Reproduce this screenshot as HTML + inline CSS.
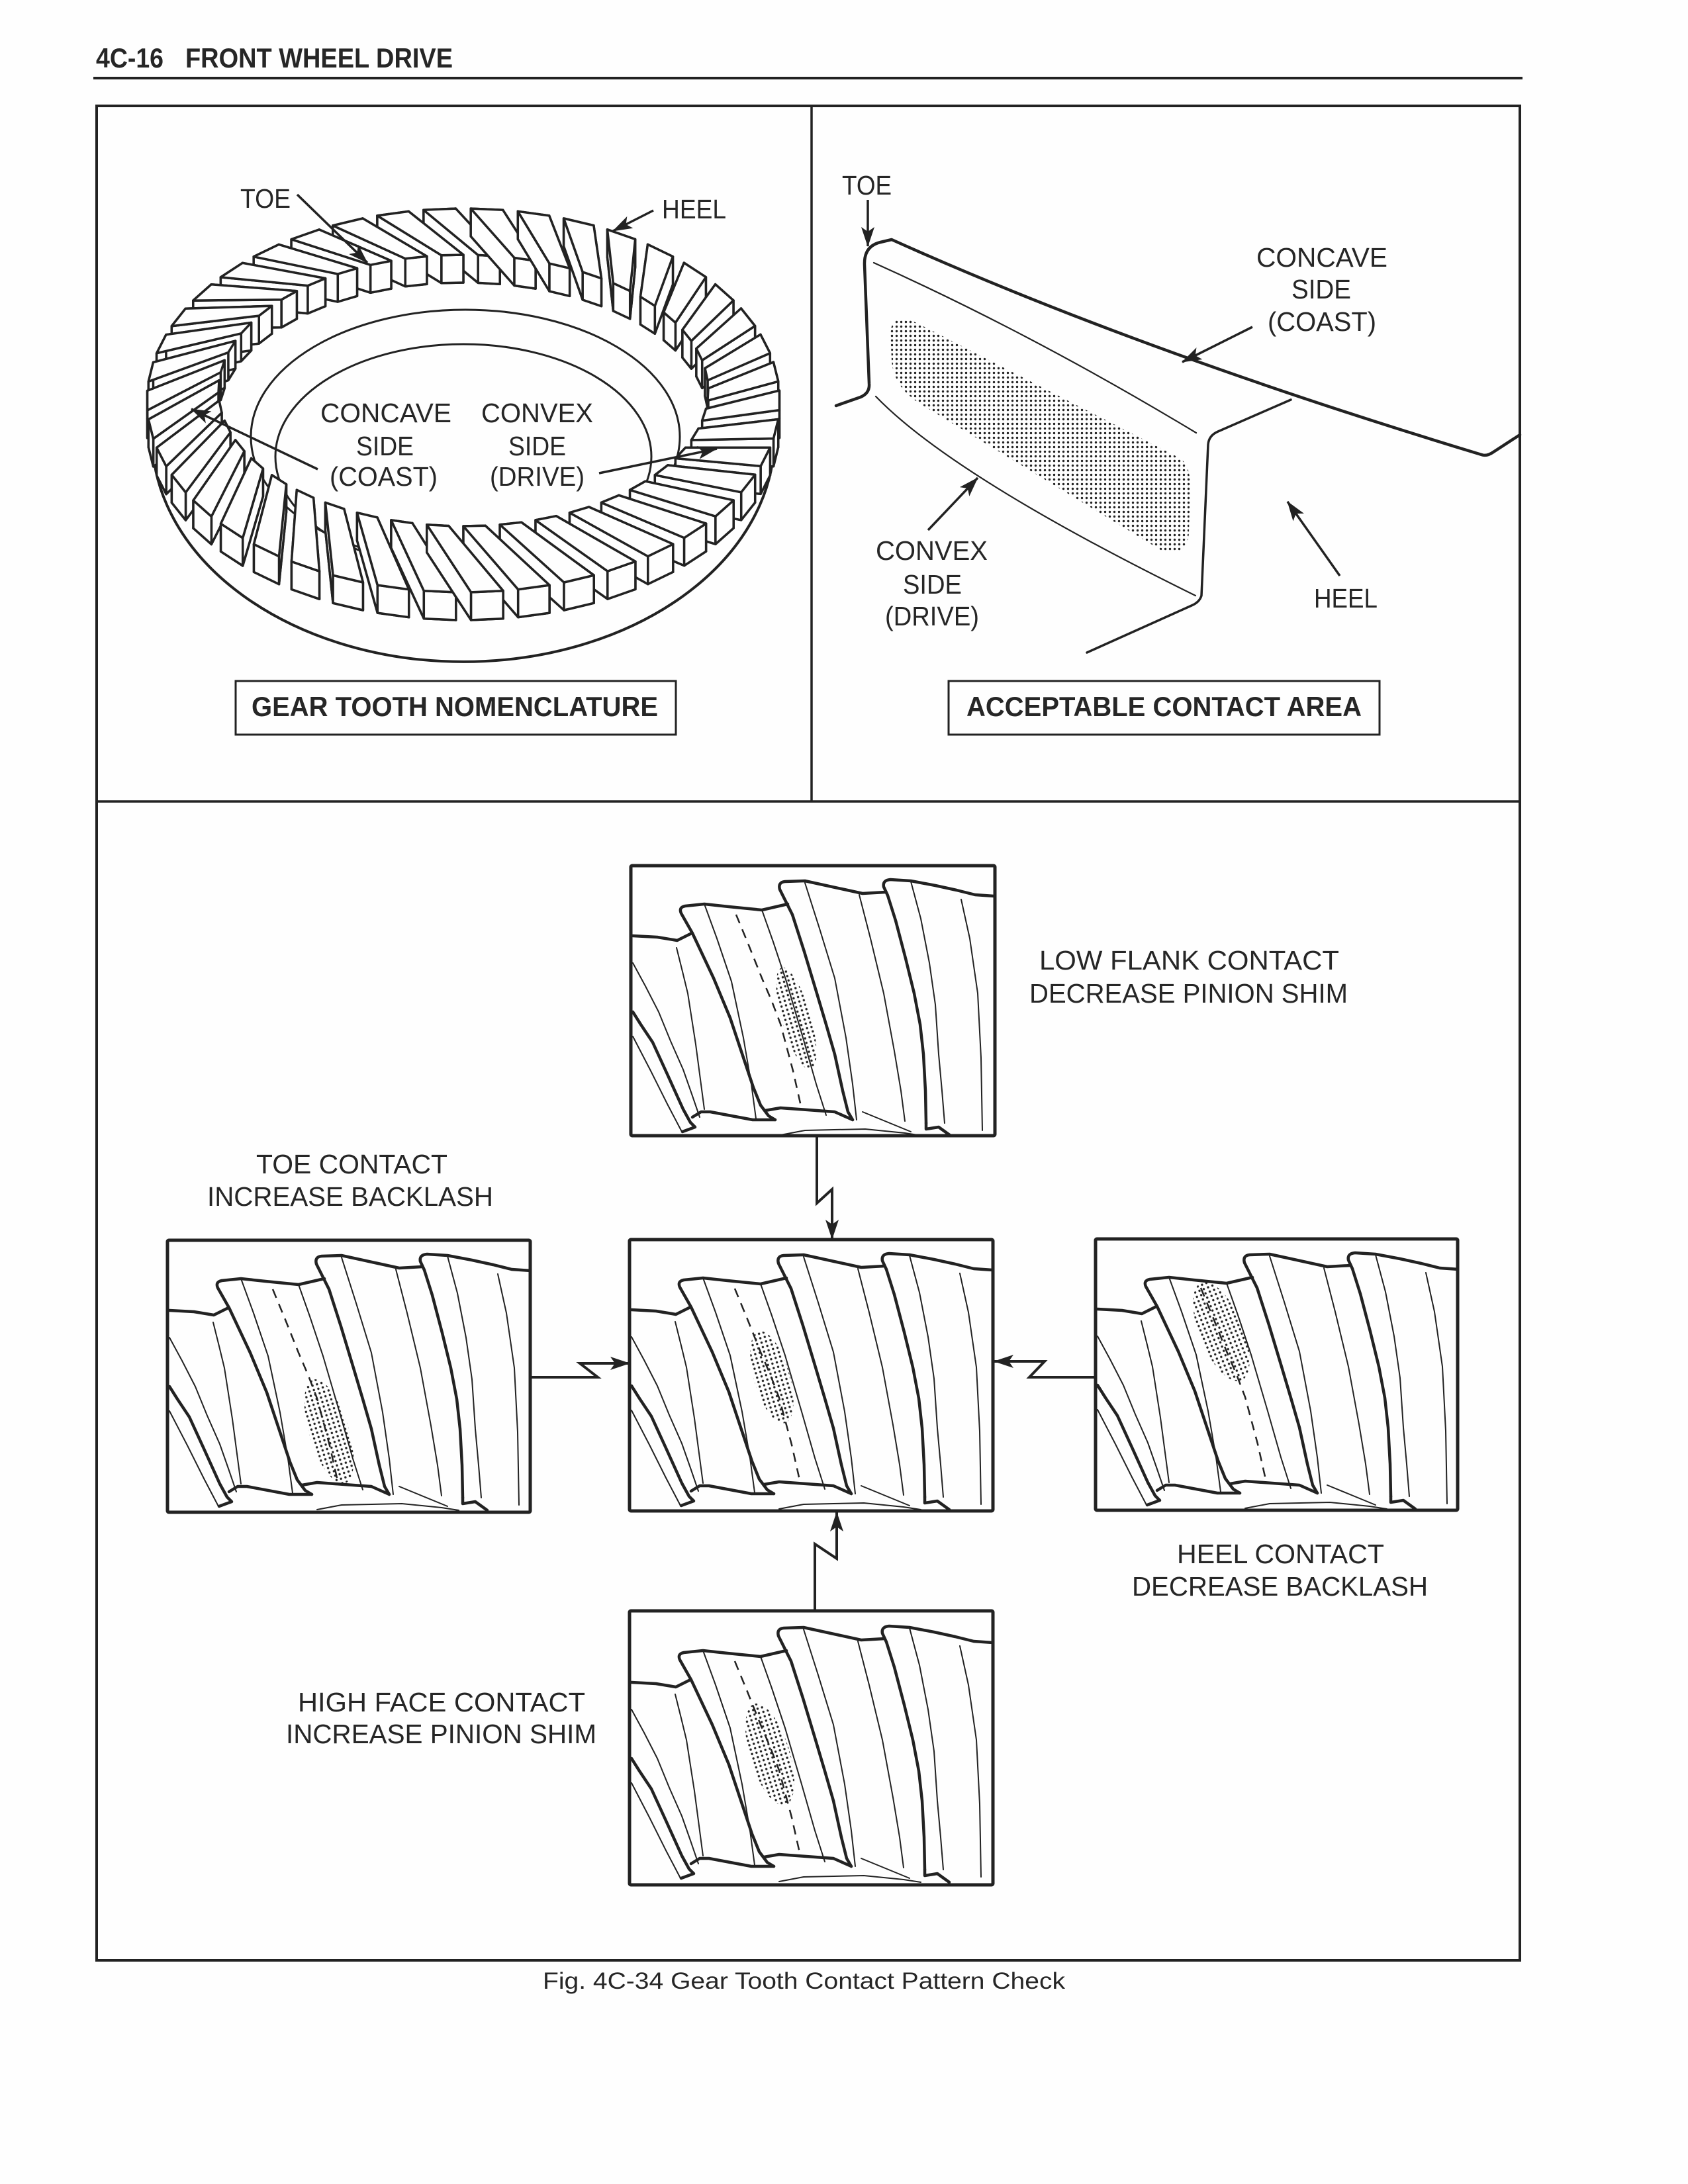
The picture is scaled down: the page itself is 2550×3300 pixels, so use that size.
<!DOCTYPE html>
<html>
<head>
<meta charset="utf-8">
<style>
html,body{margin:0;padding:0;background:#fefefe;}
svg{display:block;}
</style>
</head>
<body>
<svg id="pg" xmlns="http://www.w3.org/2000/svg" width="2550" height="3300" viewBox="0 0 2550 3300" font-family="'Liberation Sans', Arial, Helvetica, sans-serif" fill="#262626">
<defs>
  <pattern id="dots" width="7" height="7" patternUnits="userSpaceOnUse">
    <circle cx="3.5" cy="3.5" r="1.7" fill="#222"/>
  </pattern>
  <marker id="ah" viewBox="0 0 30 20" refX="29" refY="10" markerWidth="30" markerHeight="20" markerUnits="userSpaceOnUse" orient="auto">
    <path d="M0,0 L30,10 L0,20 L7,10 z" fill="#222"/>
  </marker>
  <symbol id="tp" viewBox="0 0 549 410" width="549" height="410">
    <g fill="none" stroke="#222" stroke-linecap="round" stroke-linejoin="round">
      <g stroke-width="2">
        <polyline points="69,124 78,160 86,193 98,270 111,368"/>
        <polyline points="3,147 22,182 42,221 60,265 79,308 92,345 104,380"/>
        <polyline points="3,258 30,310 55,360 77,402"/>
        <polyline points="111,58 130,110 152,175 170,260 182,330 189,382"/>
        <polyline points="198,67 215,115 235,175 260,260 280,330 295,377"/>
        <polyline points="263,26 285,95 308,170 325,260 335,330 341,384"/>
        <polyline points="345,44 362,110 382,193 398,280 408,340 414,386"/>
        <polyline points="423,24 438,80 451,147 460,210 465,285 470,340 474,389"/>
        <polyline points="499,51 512,110 524,193 529,290 531,400"/>
        <polyline points="226,407 263,400 354,398 414,404 440,408"/>
        <polyline points="350,372 423,402"/>
      </g>
      <g stroke-width="4.5">
        <polyline points="3,106 40,108 70,113 80,108 92,102"/>
        <polyline points="3,221 15,240 33,267 55,315 79,368 90,388 97,395 78,402"/>
        <path d="M218,384 L208,378 196,362 185,335 170,290 150,230 125,170 93,102 76,72 Q72,63 82,61 L111,58 148,62 198,67 237,58"/>
        <polyline points="93,380 106,372 120,372 184,384 218,384"/>
        <path d="M335,384 L328,372 320,340 308,285 295,240 281,193 262,130 244,74 232,50 225,36 Q222,25 233,24 L263,23 318,35 350,42 385,40"/>
        <polyline points="203,370 226,366 308,372 335,384"/>
        <path d="M446,389 L445,340 442,285 437,240 428,193 415,140 400,83 388,45 382,32 Q380,22 392,21 L423,23 460,30 492,37 520,44 549,46"/>
        <polyline points="446,389 446,398 465,395 483,408"/>
      </g>
      <polyline points="159,74 178,120 198,170 213,205 226,239 245,310 258,368" stroke-width="2.5" stroke-dasharray="14 10" stroke-linecap="butt"/>
    </g>
  </symbol>
</defs>

<rect x="0" y="0" width="2550" height="3300" fill="#fefefe"/>

<!-- Header -->
<text x="145" y="102" font-size="42" font-weight="bold" textLength="102" lengthAdjust="spacingAndGlyphs">4C-16</text>
<text x="280" y="102" font-size="42" font-weight="bold" textLength="404" lengthAdjust="spacingAndGlyphs">FRONT WHEEL DRIVE</text>
<line x1="141" y1="118" x2="2300" y2="118" stroke="#222" stroke-width="4"/>

<!-- Frame -->
<rect x="146" y="160" width="2150" height="2802" fill="none" stroke="#222" stroke-width="4"/>
<line x1="1226" y1="160" x2="1226" y2="1211" stroke="#222" stroke-width="3.5"/>
<line x1="146" y1="1211" x2="2296" y2="1211" stroke="#222" stroke-width="3.5"/>

<!-- ===== Gear (top-left) ===== -->
<g fill="none" stroke="#222" stroke-width="4">
  <path d="M230,660 A470,340 0 0 0 1170,660"/>
</g>
<g fill="none" stroke="#222" stroke-width="3">
  <ellipse cx="703" cy="660" rx="324" ry="192"/>
  <ellipse cx="700" cy="690" rx="284" ry="170"/>
</g>
<g id="teeth" fill="#fefefe" stroke="#222" stroke-width="3.5" stroke-linejoin="round"></g>

<g stroke="#222" stroke-width="3.5" fill="none">
  <line x1="449" y1="294" x2="555" y2="397" marker-end="url(#ah)"/>
  <line x1="987" y1="318" x2="926" y2="349" marker-end="url(#ah)"/>
  <line x1="480" y1="709" x2="289" y2="618" marker-end="url(#ah)"/>
  <line x1="905" y1="715" x2="1083" y2="678" marker-end="url(#ah)"/>
</g>
<g font-size="41">
  <text x="363" y="314" textLength="76" lengthAdjust="spacingAndGlyphs">TOE</text>
  <text x="1000" y="330" textLength="97" lengthAdjust="spacingAndGlyphs">HEEL</text>
  <text x="484" y="638" textLength="198" lengthAdjust="spacingAndGlyphs">CONCAVE</text>
  <text x="538" y="688" textLength="87" lengthAdjust="spacingAndGlyphs">SIDE</text>
  <text x="498" y="734" textLength="163" lengthAdjust="spacingAndGlyphs">(COAST)</text>
  <text x="727" y="638" textLength="169" lengthAdjust="spacingAndGlyphs">CONVEX</text>
  <text x="768" y="688" textLength="87" lengthAdjust="spacingAndGlyphs">SIDE</text>
  <text x="740" y="734" textLength="143" lengthAdjust="spacingAndGlyphs">(DRIVE)</text>
</g>
<rect x="356" y="1029" width="665" height="81" fill="none" stroke="#222" stroke-width="3"/>
<text x="380" y="1082" font-size="42" font-weight="bold" textLength="614" lengthAdjust="spacingAndGlyphs">GEAR TOOTH NOMENCLATURE</text>

<!-- ===== Acceptable contact area (top-right) ===== -->
<path d="M1345,500 Q1350,472 1385,488 L1782,692 Q1798,702 1798,735 L1796,805 Q1794,842 1755,832 L1390,610 Q1350,585 1347,545 Z" fill="url(#dots)"/>
<g fill="none" stroke="#222" stroke-linecap="round" stroke-linejoin="round">
  <path d="M1263,613 L1300,600 Q1314,594 1313,580 L1306,400 Q1305,372 1330,366 L1347,362 Q1720,530 2238,687 Q2246,690 2256,683 L2296,657" stroke-width="4.5"/>
  <path d="M1320,397 Q1560,505 1807,654" stroke-width="2.2"/>
  <path d="M1323,599 Q1440,720 1806,900" stroke-width="2.2"/>
  <path d="M1950,604 L1840,652 Q1826,658 1825,672 L1815,900 Q1812,910 1800,915 L1642,986" stroke-width="3.5"/>
</g>
<g stroke="#222" stroke-width="3.5" fill="none">
  <line x1="1311" y1="302" x2="1311" y2="372" marker-end="url(#ah)"/>
  <line x1="1892" y1="494" x2="1786" y2="547" marker-end="url(#ah)"/>
  <line x1="1402" y1="801" x2="1477" y2="722" marker-end="url(#ah)"/>
  <line x1="2024" y1="870" x2="1945" y2="758" marker-end="url(#ah)"/>
</g>
<g font-size="41">
  <text x="1272" y="294" textLength="75" lengthAdjust="spacingAndGlyphs">TOE</text>
  <text x="1898" y="403" textLength="198" lengthAdjust="spacingAndGlyphs">CONCAVE</text>
  <text x="1951" y="451" textLength="90" lengthAdjust="spacingAndGlyphs">SIDE</text>
  <text x="1915" y="500" textLength="164" lengthAdjust="spacingAndGlyphs">(COAST)</text>
  <text x="1323" y="846" textLength="169" lengthAdjust="spacingAndGlyphs">CONVEX</text>
  <text x="1364" y="897" textLength="89" lengthAdjust="spacingAndGlyphs">SIDE</text>
  <text x="1337" y="945" textLength="142" lengthAdjust="spacingAndGlyphs">(DRIVE)</text>
  <text x="1985" y="918" textLength="96" lengthAdjust="spacingAndGlyphs">HEEL</text>
</g>
<rect x="1433" y="1029" width="651" height="81" fill="none" stroke="#222" stroke-width="3"/>
<text x="1460" y="1082" font-size="42" font-weight="bold" textLength="597" lengthAdjust="spacingAndGlyphs">ACCEPTABLE CONTACT AREA</text>

<!-- ===== Contact pattern panels ===== -->
<!-- top -->
<use href="#tp" x="953" y="1308"/>
<ellipse cx="1203" cy="1539" rx="22" ry="80" transform="rotate(-16 1203 1539)" fill="url(#dots)"/>
<rect x="953" y="1308" width="550" height="408" fill="none" stroke="#222" stroke-width="5" rx="2"/>
<!-- center -->
<use href="#tp" x="951" y="1873"/>
<ellipse cx="1166" cy="2081" rx="27" ry="72" transform="rotate(-16 1166 2081)" fill="url(#dots)"/>
<rect x="951" y="1873" width="549" height="410" fill="none" stroke="#222" stroke-width="5" rx="2"/>
<!-- left -->
<use href="#tp" x="253" y="1874"/>
<ellipse cx="497" cy="2163" rx="30" ry="82" transform="rotate(-17 497 2163)" fill="url(#dots)"/>
<rect x="253" y="1874" width="548" height="411" fill="none" stroke="#222" stroke-width="5" rx="2"/>
<!-- right -->
<use href="#tp" x="1655" y="1872"/>
<ellipse cx="1845" cy="2012" rx="33" ry="80" transform="rotate(-22 1845 2012)" fill="url(#dots)"/>
<rect x="1655" y="1872" width="547" height="410" fill="none" stroke="#222" stroke-width="5" rx="2"/>
<!-- bottom -->
<use href="#tp" x="951" y="2436"/>
<ellipse cx="1163" cy="2651" rx="30" ry="80" transform="rotate(-17 1163 2651)" fill="url(#dots)"/>
<rect x="951" y="2434" width="549" height="414" fill="none" stroke="#222" stroke-width="5" rx="2"/>

<!-- connectors -->
<g fill="none" stroke="#222" stroke-width="4" stroke-linejoin="miter">
  <polyline points="1234,1716 1234,1818 1257,1797 1257,1872" marker-end="url(#ah)"/>
  <polyline points="1231,2434 1231,2333 1264,2355 1264,2285" marker-end="url(#ah)"/>
  <polyline points="801,2081 903,2081 876,2060 951,2060" marker-end="url(#ah)"/>
  <polyline points="1655,2081 1555,2081 1578,2057 1502,2057" marker-end="url(#ah)"/>
</g>

<!-- panel labels -->
<g font-size="41">
  <text x="1570" y="1465" textLength="453" lengthAdjust="spacingAndGlyphs">LOW FLANK CONTACT</text>
  <text x="1555" y="1515" textLength="481" lengthAdjust="spacingAndGlyphs">DECREASE PINION SHIM</text>
  <text x="387" y="1773" textLength="289" lengthAdjust="spacingAndGlyphs">TOE CONTACT</text>
  <text x="313" y="1822" textLength="432" lengthAdjust="spacingAndGlyphs">INCREASE BACKLASH</text>
  <text x="1778" y="2362" textLength="313" lengthAdjust="spacingAndGlyphs">HEEL CONTACT</text>
  <text x="1710" y="2411" textLength="447" lengthAdjust="spacingAndGlyphs">DECREASE BACKLASH</text>
  <text x="450" y="2586" textLength="434" lengthAdjust="spacingAndGlyphs">HIGH FACE CONTACT</text>
  <text x="432" y="2634" textLength="469" lengthAdjust="spacingAndGlyphs">INCREASE PINION SHIM</text>
</g>

<!-- caption -->
<text x="820" y="3005" font-size="35" textLength="789" lengthAdjust="spacingAndGlyphs">Fig. 4C-34 Gear Tooth Contact Pattern Check</text>
</svg>
<script>
(function(){
  var NS="http://www.w3.org/2000/svg";
  var g=document.getElementById("teeth");
  if(!g) return;
  var cx=700,N=42,st=2*Math.PI/N,h=42,tw=-0.18;
  function Ei(a){return [cx+370*Math.cos(a),590+205*Math.sin(a)];}
  function Eo(a){return [cx+478*Math.cos(a),605+290*Math.sin(a)];}
  var ts=[];
  for(var k=0;k<N;k++) ts.push(k*st+0.03);
  ts.sort(function(a,b){return Math.sin(a+tw/2)-Math.sin(b+tw/2);});
  function poly(pts){
    var p=document.createElementNS(NS,"polygon");
    p.setAttribute("points",pts.map(function(q){return q[0].toFixed(1)+","+q[1].toFixed(1);}).join(" "));
    g.appendChild(p);
  }
  ts.forEach(function(t){
    var ai=0.30*st,ao=0.34*st;
    var Q=[Ei(t-ai),Ei(t+ai),Eo(t+tw+ao),Eo(t+tw-ao)];
    var B=Q.map(function(q){return [q[0],q[1]+h];});
    poly(B);
    var sides=[];
    for(var i=0;i<4;i++){var j=(i+1)%4;sides.push([Q[i],Q[j],B[j],B[i]]);}
    sides.sort(function(a,b){return (a[0][1]+a[1][1])-(b[0][1]+b[1][1]);});
    sides.forEach(poly);
    poly(Q);
  });
})();
</script>
</body>
</html>
